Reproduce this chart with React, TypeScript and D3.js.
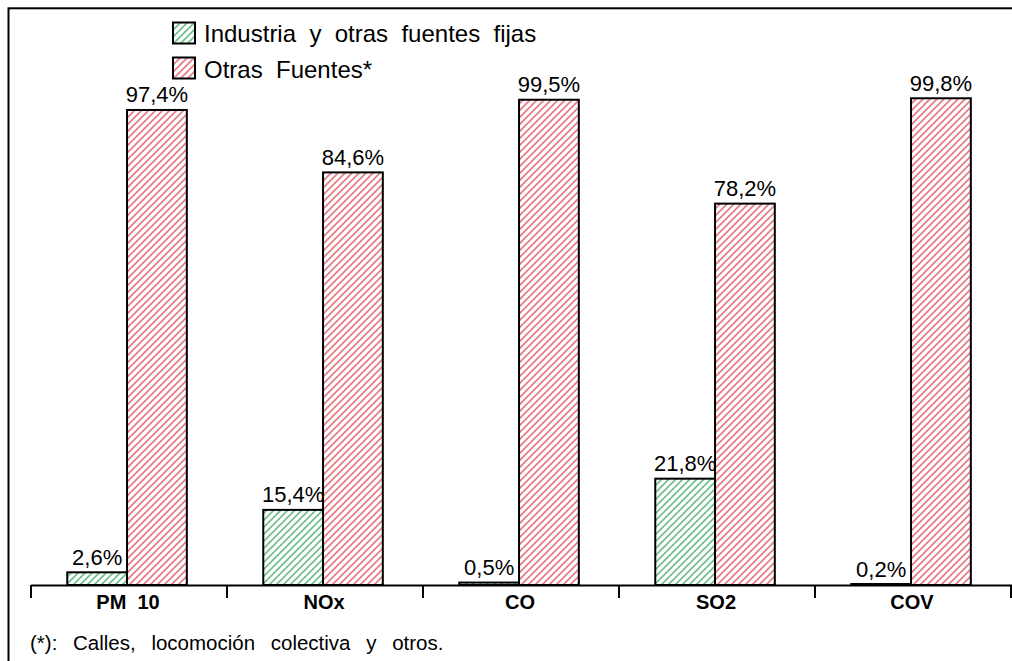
import React from "react";
import * as d3 from "d3";

const categories = ["PM  10", "NOx", "CO", "SO2", "COV"];
const seriesNames = ["Industria  y  otras  fuentes  fijas", "Otras  Fuentes*"];
const industria = [2.6, 15.4, 0.5, 21.8, 0.2];
const otras = [97.4, 84.6, 99.5, 78.2, 99.8];
const footnote = "(*): Calles, locomoción colectiva y otros.";

const W = 1012;
const H = 661;
const FONT = "'Liberation Sans', Arial, Helvetica, sans-serif";

export default function App() {
  const x0 = d3.scaleBand<string>().domain(categories).range([31, 1011]).padding(0);
  const bw = x0.bandwidth();
  const x1 = d3.scaleBand<string>().domain(["a", "b"]).range([bw * 0.185, bw * 0.795]).padding(0);
  const y = d3.scaleLinear().domain([0, 100]).range([585, 97.3]);
  const fmt = (v: number) => d3.format(".1f")(v).replace(".", ",") + "%";
  const series = [
    { key: "a", values: industria, fill: "url(#hatchGreen)" },
    { key: "b", values: otras, fill: "url(#hatchRed)" },
  ];
  const tickXs = categories.map((c) => x0(c) as number).concat([x0.range()[1]]);
  const P = 7;
  const hatch = `M0,${P} L${P},0 M-1,1 L1,-1 M${P - 1},${P + 1} L${P + 1},${P - 1}`;

  return (
    <svg width={W} height={H} style={{ position: "absolute", left: 0, top: 0 }} fontFamily={FONT}>
      <defs>
        <pattern id="hatchGreen" patternUnits="userSpaceOnUse" width={P} height={P}>
          <rect width={P} height={P} fill="white" />
          <path d={hatch} stroke="#72c08e" strokeWidth={1.7} />
        </pattern>
        <pattern id="hatchRed" patternUnits="userSpaceOnUse" width={P} height={P}>
          <rect width={P} height={P} fill="white" />
          <path d={hatch} stroke="#e97b86" strokeWidth={1.7} />
        </pattern>
      </defs>
      <rect x={0} y={0} width={W} height={H} fill="white" />
      <rect x={8.5} y={8.3} width={W + 20} height={H + 20} fill="none" stroke="#000" strokeWidth={2} />

      {/* legend */}
      {seriesNames.map((n, i) => (
        <g key={n}>
          <rect x={173} y={22.5 + i * 35} width={22} height={21} fill={series[i].fill} stroke="#000" strokeWidth={2} />
          <text x={204} y={42 + i * 36} fontSize={24} fill="#000" style={{ whiteSpace: "pre" }}>
            {n}
          </text>
        </g>
      ))}

      {/* bars */}
      {series.map((s) =>
        categories.map((c, i) => {
          const bx = (x0(c) as number) + (x1(s.key) as number);
          const by = y(s.values[i]);
          return (
            <g key={s.key + c}>
              <rect x={bx} y={by} width={x1.bandwidth()} height={y(0) - by} fill={s.fill} stroke="#000" strokeWidth={2} />
              <text x={bx + x1.bandwidth() / 2} y={by - 7.5} textAnchor="middle" fontSize={22} fill="#000">
                {fmt(s.values[i])}
              </text>
            </g>
          );
        })
      )}

      {/* axis */}
      <line x1={tickXs[0]} x2={W} y1={585.5} y2={585.5} stroke="#000" strokeWidth={2} />
      {tickXs.map((t, i) => (
        <line key={i} x1={t} x2={t} y1={585} y2={598} stroke="#000" strokeWidth={2} />
      ))}
      {categories.map((c) => (
        <text key={c} x={(x0(c) as number) + bw / 2 - 1} y={609} textAnchor="middle" fontSize={20} fontWeight="bold" fill="#000" style={{ whiteSpace: "pre" }}>
          {c}
        </text>
      ))}

      <text x={30} y={650} fontSize={20.5} fill="#000" wordSpacing={10} style={{ whiteSpace: "pre" }}>
        {footnote}
      </text>
    </svg>
  );
}
